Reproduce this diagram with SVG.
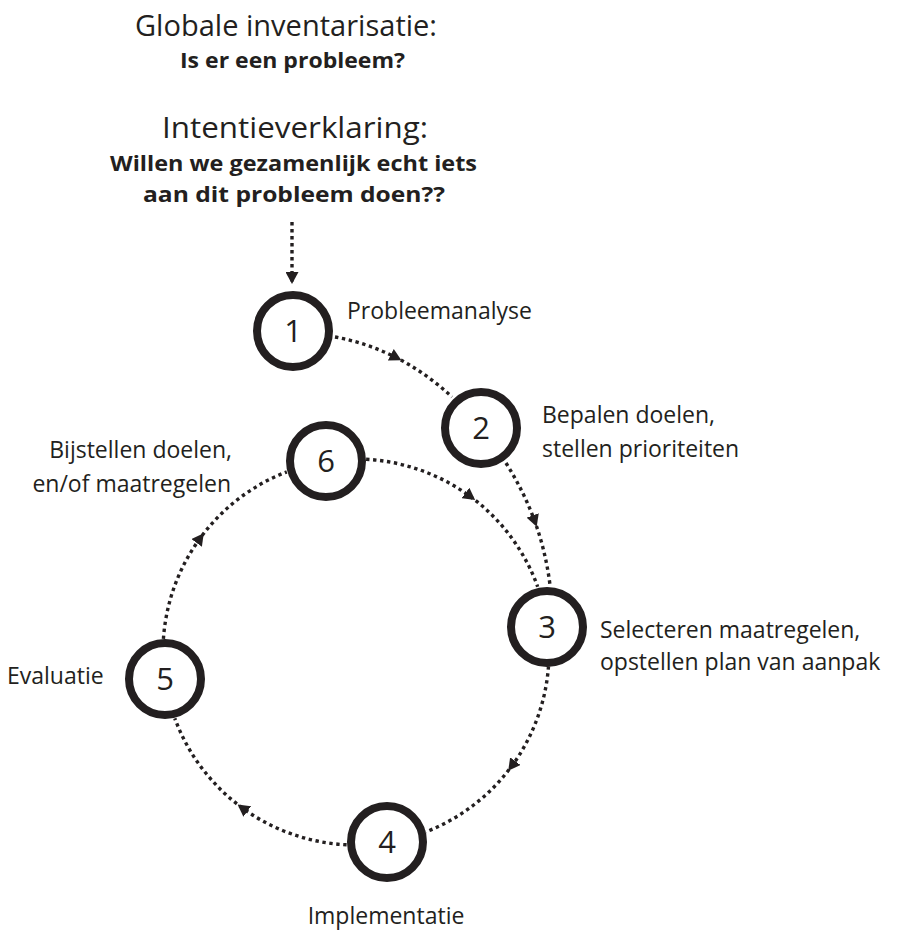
<svg xmlns="http://www.w3.org/2000/svg" width="897" height="933" viewBox="0 0 897 933">
<style>
  .bg { fill: #ffffff; }
  .ring { fill: #ffffff; stroke: #231f20; stroke-width: 8; }
  .num { font-family: "Open Sans", "Noto Sans", sans-serif; font-size: 31px; fill: #231f20; text-anchor: middle; }
  .lbl { font-family: "Open Sans", "Noto Sans", sans-serif; font-size: 23px; fill: #231f20; }
  .title { font-family: "Open Sans", "Noto Sans", sans-serif; font-size: 29px; fill: #231f20; text-anchor: middle; }
  .q { font-family: "Open Sans", "Noto Sans", sans-serif; font-size: 22px; font-weight: bold; fill: #231f20; text-anchor: middle; }
  .link { fill: none; stroke: #231f20; stroke-width: 3.4; stroke-dasharray: 3.4 3.6; }
</style>
<defs>
  <marker id="arrowEnd" markerUnits="userSpaceOnUse" viewBox="0 0 12 13" refX="12" refY="6.5" markerWidth="12" markerHeight="13" orient="auto">
    <path d="M0,0 L12,6.5 L0,13 z" fill="#231f20"/>
  </marker>
  <marker id="arrowMid" markerUnits="userSpaceOnUse" viewBox="0 0 12 13" refX="7" refY="6.5" markerWidth="12" markerHeight="13" orient="auto">
    <path d="M0,0 L12,6.5 L0,13 z" fill="#231f20"/>
  </marker>
</defs>
<rect class="bg" x="0" y="0" width="897" height="933"/>

<g id="header">
  <text class="title" x="286" y="36" textLength="302" lengthAdjust="spacingAndGlyphs">Globale inventarisatie:</text>
  <text class="q" x="292.5" y="68" textLength="225" lengthAdjust="spacingAndGlyphs">Is er een probleem?</text>
  <text class="title" x="295" y="138" textLength="266" lengthAdjust="spacingAndGlyphs">Intentieverklaring:</text>
  <text class="q" x="293.5" y="171" textLength="367" lengthAdjust="spacingAndGlyphs">Willen we gezamenlijk echt iets</text>
  <text class="q" x="294" y="202" textLength="302" lengthAdjust="spacingAndGlyphs">aan dit probleem doen??</text>
</g>

<g id="connectors">
  <path class="link" d="M292,222 L292,284" marker-end="url(#arrowEnd)"/>
  <path class="link" d="M335,337 Q367.75,343 397,358 Q426.25,373 452,397" marker-mid="url(#arrowMid)"/>
  <path class="link" d="M506,463 Q524,491.5 535,522 Q546,552.5 550,585" marker-mid="url(#arrowMid)"/>
  <path class="link" d="M366.1,459.3 A193,193 0 0 1 471.1,497.1 A193,193 0 0 1 537.7,586.8" marker-mid="url(#arrowMid)"/>
  <path class="link" d="M548.5,666.3 A193,193 0 0 1 511.2,766.8 A193,193 0 0 1 425.8,831.9" marker-mid="url(#arrowMid)"/>
  <path class="link" d="M346.6,844.8 A193,193 0 0 1 241.6,807.4 A193,193 0 0 1 174.8,718.3" marker-mid="url(#arrowMid)"/>
  <path class="link" d="M163.4,638.9 A193,193 0 0 1 200.8,537.3 A193,193 0 0 1 286.8,471.8" marker-mid="url(#arrowMid)"/>
</g>

<g id="node1">
  <circle class="ring" cx="293" cy="331" r="36"/>
  <text class="num" x="293" y="342">1</text>
  <text class="lbl" x="347" y="319">Probleemanalyse</text>
</g>
<g id="node2">
  <circle class="ring" cx="481" cy="428" r="36"/>
  <text class="num" x="481" y="439">2</text>
  <text class="lbl" x="542" y="423">Bepalen doelen,</text>
  <text class="lbl" x="542" y="457">stellen prioriteiten</text>
</g>
<g id="node3">
  <circle class="ring" cx="547" cy="627" r="36"/>
  <text class="num" x="547" y="638">3</text>
  <text class="lbl" x="600" y="638">Selecteren maatregelen,</text>
  <text class="lbl" x="600" y="670">opstellen plan van aanpak</text>
</g>
<g id="node4">
  <circle class="ring" cx="387" cy="842" r="36"/>
  <text class="num" x="387" y="853">4</text>
  <text class="lbl" x="386" y="924" text-anchor="middle">Implementatie</text>
</g>
<g id="node5">
  <circle class="ring" cx="165" cy="679" r="36"/>
  <text class="num" x="165" y="690">5</text>
  <text class="lbl" x="7" y="684">Evaluatie</text>
</g>
<g id="node6">
  <circle class="ring" cx="326" cy="461" r="36"/>
  <text class="num" x="326" y="472">6</text>
  <text class="lbl" x="232" y="458" text-anchor="end">Bijstellen doelen,</text>
  <text class="lbl" x="231" y="492" text-anchor="end">en/of maatregelen</text>
</g>
</svg>
